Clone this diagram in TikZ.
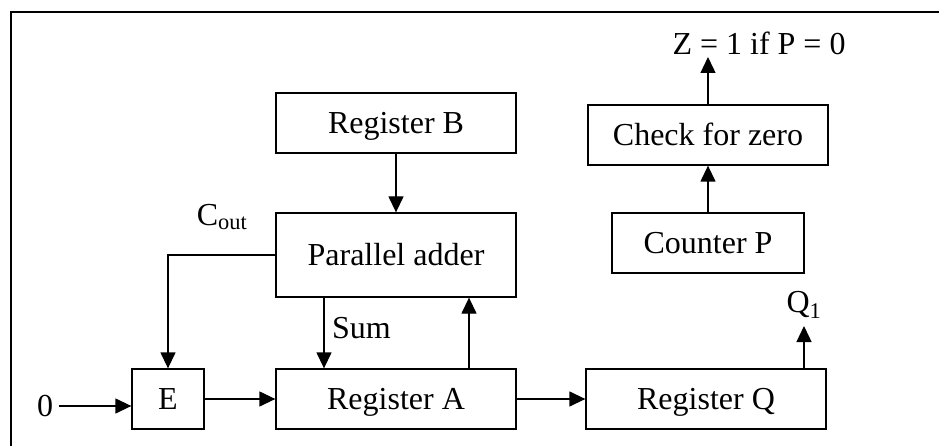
\documentclass[tikz,border=0pt]{standalone}
\usepackage{fontspec}
\setmainfont{Liberation Serif}
\usetikzlibrary{arrows.meta}
\begin{document}
\begin{tikzpicture}[x=1pt,y=-1pt,
  every node/.style={font=\fontsize{32}{38}\selectfont},
  blk/.style={draw,line width=1.3pt,inner sep=0pt,minimum height=60pt,
              text height=21pt,text depth=0pt},
  arr/.style={line width=1.3pt,-{Triangle[length=16pt,width=15pt]}},
  lbl/.style={inner sep=0pt}]
\useasboundingbox (0,0) rectangle (939,446);
% outer frame (top and left edges)
\draw[line width=2pt] (11,446) -- (11,12) -- (945,12);

% blocks
\node[blk,minimum width=240pt] (regB) at (396,123) {Register B};
\node[blk,minimum width=240pt,minimum height=84pt] (adder) at (396,255) {Parallel adder};
\node[blk,minimum width=240pt] (regA) at (396,399) {Register A};
\node[blk,minimum width=72pt] (E) at (168,399) {E};
\node[blk,minimum width=240pt] (regQ) at (706,399) {Register Q};
\node[blk,minimum width=192pt] (cntP) at (708,243) {Counter P};
\node[blk,minimum width=240pt] (chk) at (708,135) {Check for zero};

% labels
\node[lbl] (zero) at (45,406) {0};
\node[lbl] (cout) at (222,217) {C\textsubscript{out}};
\node[lbl,anchor=west] (sum) at (332,328) {Sum};
\node[lbl] (q1) at (804,305) {Q\textsubscript{1}};
\node[lbl] (zout) at (759,43) {Z = 1 if P = 0};

% helper coordinates
\coordinate (sx) at (324,0);
\coordinate (ux) at (469,0);
\coordinate (qtip) at (804,326);
\coordinate (ztip) at (708,57);

% connectors
\draw[arr] (regB) -- (adder);
\draw[arr] (adder.west) -| (E.north);
\draw[arr] (sx |- adder.south) -- (sx |- regA.north);
\draw[arr] (ux |- regA.north) -- (ux |- adder.south);
\draw[arr] ([xshift=6pt]zero.east) -- (zero.east -| E.west);
\draw[arr] (E) -- (regA);
\draw[arr] (regA) -- (regQ.west |- regA);
\draw[arr] (qtip |- regQ.north) -- (qtip);
\draw[arr] (cntP) -- (chk);
\draw[arr] (chk) -- (ztip);
\end{tikzpicture}
\end{document}
